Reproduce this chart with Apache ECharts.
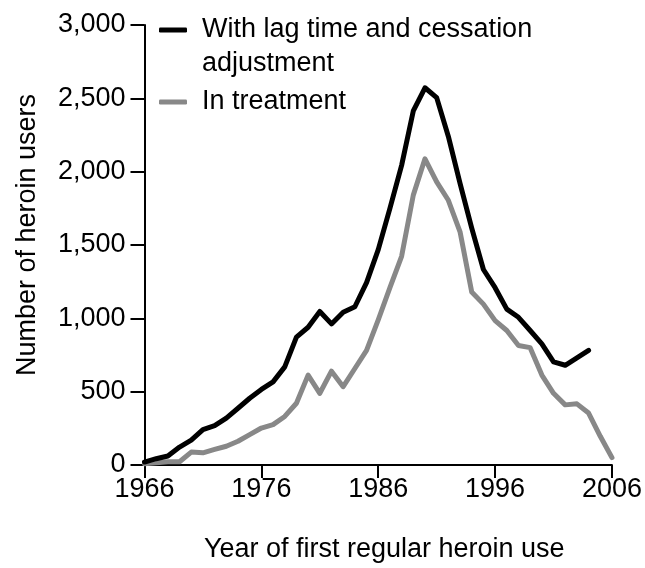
<!DOCTYPE html>
<html><head><meta charset="utf-8">
<script src="https://cdn.jsdelivr.net/npm/echarts@6/dist/echarts.min.js"></script>
<style>html,body{margin:0;padding:0;background:#fff}#c{width:645px;height:568px}</style>
</head><body><div id="c"></div>
<script>
const years = ['1966','1967','1968','1969','1970','1971','1972','1973','1974','1975',
  '1976','1977','1978','1979','1980','1981','1982','1983','1984','1985',
  '1986','1987','1988','1989','1990','1991','1992','1993','1994','1995',
  '1996','1997','1998','1999','2000','2001','2002','2003','2004','2005','2006'];
// 1966-2004
const lagAdjusted = [20,43,61,122,169,241,268,320,387,455,
  515,567,669,872,939,1047,962,1041,1079,1243,
  1468,1750,2043,2414,2572,2505,2240,1920,1615,1333,
  1209,1063,1007,917,826,703,680,730,782];
// 1966-2006
const inTreatment = [9,16,22,22,88,83,106,128,162,207,
  252,275,331,421,613,489,640,534,658,782,
  990,1209,1423,1840,2088,1930,1805,1590,1180,1097,
  984,917,815,800,613,489,410,417,354,196,50];
const seriesNames = ['With lag time and cessation\nadjustment', 'In treatment'];
const xTitle = 'Year of first regular heroin use';
const yTitle = 'Number of heroin users';

const FONT = "'Liberation Sans', Arial, Helvetica, sans-serif";
const FS = 27;
const chart = echarts.init(document.getElementById('c'), null, {renderer: 'canvas'});
chart.setOption({
  animation: false,
  backgroundColor: '#fff',
  textStyle: {fontFamily: FONT, color: '#000'},
  grid: {left: 144.5, right: 33, top: 25, bottom: 99},
  legend: {
    orient: 'vertical', left: 159, top: -21, padding: 0, itemGap: 4,
    itemWidth: 28, itemHeight: 5, icon: 'roundRect',
    formatter: name => (name.indexOf('\n') >= 0 ? '\n' + name : name),
    textStyle: {fontFamily: FONT, fontSize: FS, color: '#000', lineHeight: 34, padding: [0,0,0,10]},
    data: [seriesNames[0], seriesNames[1]]
  },
  xAxis: {
    type: 'category', data: years, boundaryGap: false,
    name: xTitle, nameLocation: 'middle', nameGap: 71,
    nameTextStyle: {fontFamily: FONT, fontSize: FS, color: '#000', padding: [0,0,0,12]},
    axisLine: {lineStyle: {color: '#000', width: 2}},
    axisTick: {length: 13, interval: 9, lineStyle: {color: '#000', width: 2}, alignWithLabel: true},
    axisLabel: {interval: 9, fontSize: FS, color: '#000', fontFamily: FONT, margin: 11},
    splitLine: {show: false}
  },
  yAxis: {
    type: 'value', min: 0, max: 3000, interval: 500,
    name: yTitle, nameLocation: 'middle', nameGap: 103,
    nameTextStyle: {fontFamily: FONT, fontSize: FS, color: '#000', padding: [0,0,0,20]},
    axisLine: {show: true, lineStyle: {color: '#000', width: 2}},
    axisTick: {show: true, length: 14, lineStyle: {color: '#000', width: 2}},
    axisLabel: {fontSize: FS, color: '#000', fontFamily: FONT, margin: 19,
      formatter: v => v.toLocaleString('en-US')},
    splitLine: {show: false}
  },
  series: [
    {name: seriesNames[0], type: 'line', data: lagAdjusted, symbol: 'none', z: 3,
      itemStyle: {color: '#000'},
      lineStyle: {color: '#000', width: 5, join: 'round', cap: 'round'}},
    {name: seriesNames[1], type: 'line', data: inTreatment, symbol: 'none', z: 2,
      itemStyle: {color: '#888'},
      lineStyle: {color: '#888', width: 5, join: 'round', cap: 'round'}}
  ]
});
</script></body></html>
